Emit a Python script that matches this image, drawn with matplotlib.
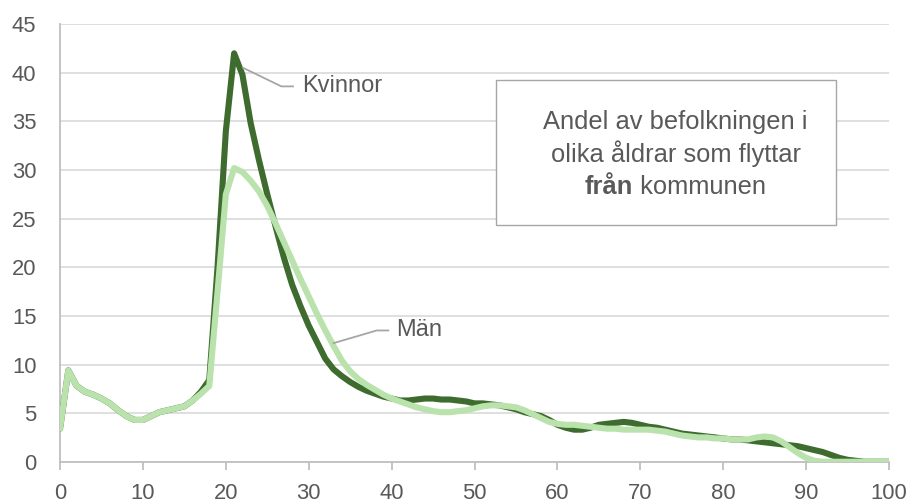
import numpy as np
import matplotlib
matplotlib.use("Agg")
import matplotlib.pyplot as plt
from matplotlib.patches import Rectangle

plt.rcParams['font.family'] = ['Liberation Sans', 'DejaVu Sans']

# andel (%) som flyttar från kommunen, per ålder 0-100
alder = np.arange(0, 101)
kvinnor = [3.4, 9.4, 7.8, 7.2, 6.9, 6.5, 6.0, 5.3, 4.7, 4.3,
           4.3, 4.7, 5.1, 5.3, 5.5, 5.7, 6.3, 7.2, 8.4, 20.0,
           34.0, 42.0, 39.8, 34.8, 31.0, 27.5, 24.2, 21.0, 18.2, 16.0,
           14.0, 12.3, 10.6, 9.5, 8.8, 8.2, 7.7, 7.3, 7.0, 6.7,
           6.5, 6.3, 6.3, 6.4, 6.5, 6.5, 6.4, 6.4, 6.3, 6.2,
           6.0, 6.0, 5.9, 5.8, 5.6, 5.4, 5.1, 4.9, 4.7, 4.3,
           3.8, 3.5, 3.3, 3.3, 3.5, 3.8, 3.9, 4.0, 4.1, 4.0,
           3.8, 3.6, 3.5, 3.3, 3.1, 2.9, 2.8, 2.7, 2.6, 2.5,
           2.4, 2.3, 2.3, 2.2, 2.1, 2.0, 1.9, 1.8, 1.7, 1.6,
           1.4, 1.2, 1.0, 0.7, 0.4, 0.2, 0.1, 0.0, 0.0, 0.0,
           0.0]
man = [3.4, 9.4, 7.8, 7.2, 6.9, 6.5, 6.0, 5.3, 4.7, 4.3,
       4.3, 4.7, 5.1, 5.3, 5.5, 5.7, 6.3, 7.0, 7.8, 17.5,
       27.5, 30.2, 29.8, 28.9, 27.8, 26.3, 24.5, 22.6, 20.7, 18.8,
       17.0, 15.2, 13.5, 11.9, 10.4, 9.3, 8.5, 7.9, 7.4, 6.9,
       6.5, 6.2, 5.9, 5.6, 5.4, 5.2, 5.1, 5.1, 5.2, 5.3,
       5.5, 5.7, 5.8, 5.8, 5.7, 5.6, 5.3, 4.9, 4.5, 4.1,
       3.9, 3.8, 3.8, 3.7, 3.6, 3.5, 3.4, 3.4, 3.3, 3.3,
       3.3, 3.3, 3.2, 3.1, 2.9, 2.7, 2.6, 2.5, 2.5, 2.4,
       2.4, 2.3, 2.3, 2.3, 2.5, 2.6, 2.5, 2.1, 1.5, 0.9,
       0.4, 0.1, 0.0, 0.0, 0.0, 0.0, 0.0, 0.0, 0.0, 0.0,
       0.0]

xticks = np.arange(0, 101, 10)
yticks = np.arange(0, 46, 5)

textfarg = '#595959'
gridfarg = '#d9d9d9'
axelfarg = '#bfbfbf'

fig = plt.figure(figsize=(9.11, 5.03), dpi=100)
ax = fig.add_axes([0.0659, 0.082, 0.910, 0.870])

ax.plot(alder, kvinnor, color='#3e6b2e', lw=4.4, solid_capstyle='round', solid_joinstyle='round', zorder=3)
ax.plot(alder, man, color='#b9e2ac', lw=4.4, solid_capstyle='round', solid_joinstyle='round', zorder=4)

ax.set_xlim(0, 100)
ax.set_ylim(0, 45)
ax.set_xticks(xticks)
ax.set_yticks(yticks)
ax.grid(axis='y', color=gridfarg, lw=1.2, zorder=0)
ax.set_axisbelow(True)
for s in ['top', 'right']:
    ax.spines[s].set_visible(False)
for s in ['left', 'bottom']:
    ax.spines[s].set_color(axelfarg)
    ax.spines[s].set_linewidth(1.3)
ax.tick_params(axis='x', colors=axelfarg, length=6, width=1.3, pad=9, labelsize=15.8, labelcolor=textfarg)
ax.tick_params(axis='y', length=0, pad=17, labelsize=15.8, labelcolor=textfarg)

# etiketter med hänvisningslinjer
ax.plot([22.1, 26.7, 28.1], [40.5, 38.6, 38.6], color='#a6a6a6', lw=1.3, zorder=5)
ax.text(29.2, 38.6, 'Kvinnor', fontsize=17, color=textfarg, va='center', ha='left')
ax.plot([33.0, 38.2, 39.6], [12.2, 13.5, 13.5], color='#a6a6a6', lw=1.3, zorder=5)
ax.text(40.5, 13.5, 'Män', fontsize=17, color=textfarg, va='center', ha='left')

# textruta
ax.add_patch(Rectangle((0.5256, 0.5408), 0.4101, 0.3312, transform=ax.transAxes,
                       facecolor='white', edgecolor='#a6a6a6', lw=1.0, zorder=6))
ax.text(0.7425, 0.777, 'Andel av befolkningen i', transform=ax.transAxes,
        fontsize=18.4, color=textfarg, ha='center', va='center', zorder=7)
ax.text(0.7425, 0.703, 'olika åldrar som flyttar', transform=ax.transAxes,
        fontsize=18.4, color=textfarg, ha='center', va='center', zorder=7)

# sista raden: "från" i fetstil
r = fig.canvas.get_renderer()
t1 = ax.text(0, 0.628, 'från', transform=ax.transAxes, fontsize=18.4,
             fontweight='bold', color=textfarg, ha='left', va='center', zorder=7)
t2 = ax.text(0, 0.628, ' kommunen', transform=ax.transAxes, fontsize=18.4,
             color=textfarg, ha='left', va='center', zorder=7)
w1 = t1.get_window_extent(r).width
w2 = t2.get_window_extent(r).width
axw = ax.get_window_extent(r).width
start = 0.7425 - (w1 + w2) / 2 / axw
t1.set_x(start)
t2.set_x(start + w1 / axw)

fig.savefig('out.png', dpi=100)
